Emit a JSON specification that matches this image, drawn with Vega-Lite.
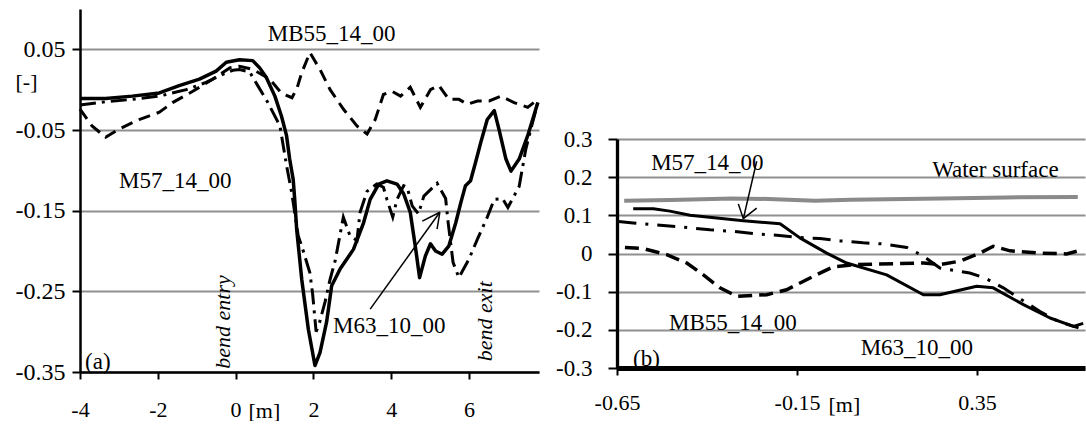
{
  "$schema": "https://vega.github.io/schema/vega-lite/v6.json",
  "padding": {"left": 15, "top": 9, "right": 0, "bottom": 0},
  "background": "white",
  "config": {
    "view": {"stroke": null},
    "font": "'Liberation Serif', 'Times New Roman', serif",
    "axis": {"labelFont": "'Liberation Serif', 'Times New Roman', serif", "titleFont": "'Liberation Serif', 'Times New Roman', serif", "labelColor": "black", "titleColor": "black", "domainColor": "black", "tickColor": "black", "gridColor": "#909090", "gridWidth": 2, "titleFontWeight": "normal", "labelFlush": false, "labelOverlap": false},
    "text": {"font": "'Liberation Serif', 'Times New Roman', serif"}
  },
  "datasets": {
    "aSolid": [{"x":-4,"y":-0.011},{"x":-3.34,"y":-0.011},{"x":-2.66,"y":-0.008},{"x":-1.96,"y":-0.004},{"x":-1.45,"y":0.005},{"x":-0.93,"y":0.013},{"x":-0.5,"y":0.023},{"x":-0.24,"y":0.034},{"x":0.1,"y":0.037},{"x":0.44,"y":0.036},{"x":0.62,"y":0.027},{"x":0.79,"y":0.015},{"x":1.01,"y":-0.008},{"x":1.18,"y":-0.033},{"x":1.31,"y":-0.057},{"x":1.39,"y":-0.086},{"x":1.48,"y":-0.111},{"x":1.52,"y":-0.136},{"x":1.57,"y":-0.173},{"x":1.7,"y":-0.235},{"x":1.87,"y":-0.297},{"x":2.04,"y":-0.342},{"x":2.17,"y":-0.326},{"x":2.34,"y":-0.288},{"x":2.47,"y":-0.243},{"x":2.69,"y":-0.222},{"x":3.03,"y":-0.198},{"x":3.29,"y":-0.165},{"x":3.46,"y":-0.136},{"x":3.68,"y":-0.117},{"x":3.89,"y":-0.113},{"x":4.15,"y":-0.117},{"x":4.32,"y":-0.129},{"x":4.49,"y":-0.152},{"x":4.62,"y":-0.194},{"x":4.73,"y":-0.233},{"x":4.88,"y":-0.206},{"x":5.01,"y":-0.191},{"x":5.14,"y":-0.2},{"x":5.31,"y":-0.204},{"x":5.48,"y":-0.194},{"x":5.66,"y":-0.165},{"x":5.79,"y":-0.14},{"x":5.91,"y":-0.119},{"x":6.04,"y":-0.113},{"x":6.17,"y":-0.09},{"x":6.3,"y":-0.066},{"x":6.47,"y":-0.037},{"x":6.65,"y":-0.026},{"x":6.77,"y":-0.049},{"x":6.95,"y":-0.086},{"x":7.08,"y":-0.101},{"x":7.29,"y":-0.086},{"x":7.51,"y":-0.057},{"x":7.77,"y":-0.016}],
    "aDash": [{"x":-4,"y":-0.024},{"x":-3.69,"y":-0.045},{"x":-3.34,"y":-0.059},{"x":-3.0,"y":-0.049},{"x":-2.48,"y":-0.037},{"x":-1.96,"y":-0.028},{"x":-1.62,"y":-0.016},{"x":-1.1,"y":-0.002},{"x":-0.59,"y":0.013},{"x":-0.15,"y":0.027},{"x":0.1,"y":0.029},{"x":0.45,"y":0.025},{"x":0.88,"y":0.013},{"x":1.14,"y":-0.002},{"x":1.31,"y":-0.007},{"x":1.45,"y":-0.01},{"x":1.58,"y":0.002},{"x":1.7,"y":0.021},{"x":1.91,"y":0.046},{"x":2.17,"y":0.025},{"x":2.43,"y":0.0},{"x":2.77,"y":-0.024},{"x":3.12,"y":-0.045},{"x":3.38,"y":-0.055},{"x":3.59,"y":-0.037},{"x":3.8,"y":-0.006},{"x":4.02,"y":-0.002},{"x":4.24,"y":-0.008},{"x":4.49,"y":0.003},{"x":4.75,"y":-0.022},{"x":5.01,"y":0.0},{"x":5.23,"y":0.005},{"x":5.48,"y":-0.012},{"x":5.74,"y":-0.012},{"x":5.96,"y":-0.018},{"x":6.22,"y":-0.014},{"x":6.52,"y":-0.014},{"x":6.82,"y":-0.008},{"x":7.16,"y":-0.016},{"x":7.51,"y":-0.022},{"x":7.77,"y":-0.012}],
    "aDashDot": [{"x":-4,"y":-0.019},{"x":-3.34,"y":-0.015},{"x":-2.65,"y":-0.012},{"x":-1.96,"y":-0.008},{"x":-1.27,"y":0.0},{"x":-0.76,"y":0.009},{"x":-0.33,"y":0.019},{"x":-0.07,"y":0.024},{"x":0.1,"y":0.025},{"x":0.36,"y":0.022},{"x":0.57,"y":0.005},{"x":0.83,"y":-0.016},{"x":1.14,"y":-0.045},{"x":1.31,"y":-0.094},{"x":1.44,"y":-0.127},{"x":1.61,"y":-0.181},{"x":1.74,"y":-0.2},{"x":1.91,"y":-0.227},{"x":1.98,"y":-0.253},{"x":2.07,"y":-0.3},{"x":2.15,"y":-0.29},{"x":2.3,"y":-0.263},{"x":2.43,"y":-0.235},{"x":2.56,"y":-0.212},{"x":2.77,"y":-0.158},{"x":2.94,"y":-0.181},{"x":3.12,"y":-0.187},{"x":3.2,"y":-0.152},{"x":3.38,"y":-0.126},{"x":3.63,"y":-0.117},{"x":3.8,"y":-0.121},{"x":3.89,"y":-0.136},{"x":4.04,"y":-0.158},{"x":4.15,"y":-0.136},{"x":4.32,"y":-0.119},{"x":4.41,"y":-0.121},{"x":4.54,"y":-0.144},{"x":4.7,"y":-0.154},{"x":4.84,"y":-0.132},{"x":5.18,"y":-0.116},{"x":5.4,"y":-0.135},{"x":5.46,"y":-0.163},{"x":5.59,"y":-0.214},{"x":5.74,"y":-0.233},{"x":6.0,"y":-0.21},{"x":6.22,"y":-0.185},{"x":6.47,"y":-0.158},{"x":6.65,"y":-0.136},{"x":6.86,"y":-0.135},{"x":7.0,"y":-0.146},{"x":7.29,"y":-0.12},{"x":7.46,"y":-0.074},{"x":7.59,"y":-0.049},{"x":7.77,"y":-0.016}],
    "bWater": [{"x":-0.63,"y":0.138},{"x":-0.5,"y":0.14},{"x":-0.33,"y":0.144},{"x":-0.23,"y":0.143},{"x":-0.1,"y":0.138},{"x":0.0,"y":0.141},{"x":0.25,"y":0.144},{"x":0.43,"y":0.147},{"x":0.63,"y":0.148}],
    "bSolid": [{"x":-0.605,"y":0.117},{"x":-0.549,"y":0.117},{"x":-0.503,"y":0.111},{"x":-0.447,"y":0.1},{"x":-0.373,"y":0.093},{"x":-0.299,"y":0.086},{"x":-0.197,"y":0.078},{"x":-0.142,"y":0.041},{"x":-0.0675,"y":0.001},{"x":-0.012,"y":-0.025},{"x":0.099,"y":-0.056},{"x":0.201,"y":-0.108},{"x":0.247,"y":-0.108},{"x":0.349,"y":-0.086},{"x":0.395,"y":-0.09},{"x":0.479,"y":-0.134},{"x":0.553,"y":-0.169},{"x":0.618,"y":-0.191},{"x":0.645,"y":-0.183}],
    "bDash": [{"x":-0.628,"y":0.016},{"x":-0.577,"y":0.013},{"x":-0.512,"y":-0.003},{"x":-0.456,"y":-0.025},{"x":-0.41,"y":-0.056},{"x":-0.364,"y":-0.09},{"x":-0.317,"y":-0.112},{"x":-0.234,"y":-0.108},{"x":-0.179,"y":-0.095},{"x":-0.105,"y":-0.06},{"x":-0.05,"y":-0.035},{"x":0.016,"y":-0.029},{"x":0.201,"y":-0.025},{"x":0.247,"y":-0.029},{"x":0.303,"y":-0.02},{"x":0.358,"y":0.001},{"x":0.395,"y":0.019},{"x":0.442,"y":0.007},{"x":0.525,"y":0.001},{"x":0.599,"y":-0.001},{"x":0.627,"y":0.006}],
    "bDashDot": [{"x":-0.646,"y":0.084},{"x":-0.605,"y":0.08},{"x":-0.466,"y":0.069},{"x":-0.392,"y":0.062},{"x":-0.327,"y":0.058},{"x":-0.262,"y":0.051},{"x":-0.206,"y":0.048},{"x":-0.142,"y":0.042},{"x":-0.086,"y":0.039},{"x":-0.03,"y":0.033},{"x":0.034,"y":0.028},{"x":0.09,"y":0.025},{"x":0.155,"y":0.016},{"x":0.201,"y":-0.007},{"x":0.247,"y":-0.038},{"x":0.303,"y":-0.047},{"x":0.33,"y":-0.051},{"x":0.372,"y":-0.064},{"x":0.423,"y":-0.09},{"x":0.474,"y":-0.121},{"x":0.525,"y":-0.152},{"x":0.576,"y":-0.178},{"x":0.632,"y":-0.195}]
  },
  "spacing": 11,
  "hconcat": [
    {
      "width": 459,
      "height": 363,
      "encoding": {
        "x": {"field": "x", "type": "quantitative", "scale": {"domain": [-4, 7.8], "nice": false, "zero": false},
          "axis": {"values": [-4, -2, 0, 2, 4, 6], "labelExpr": "(datum.value < 0 ? '-' : '') + format(abs(datum.value), 'd')", "labelFontSize": 22, "tickSize": 7, "tickWidth": 2, "labelPadding": 20, "domainWidth": 2.5, "grid": false, "title": "[m]", "titleX": 168, "titleY": 45, "titleAlign": "left", "titleBaseline": "alphabetic", "titleFontSize": 22}},
        "y": {"field": "y", "type": "quantitative", "scale": {"domain": [-0.35, 0.1], "nice": false, "zero": false},
          "axis": {"values": [-0.35, -0.25, -0.15, -0.05, 0.05], "labelExpr": "(datum.value < 0 ? '-' : '') + format(abs(datum.value), '.2f')", "labelFontSize": 24, "tickSize": 8, "tickWidth": 2, "labelPadding": 7, "domainWidth": 2.5, "grid": true, "title": "[-]", "titleAngle": 0, "titleX": -65, "titleY": 72, "titleAlign": "left", "titleBaseline": "middle", "titleFontSize": 22}}
      },
      "layer": [
        {"data": {"values": [{"x": 0}, {"x": 5.9}]}, "mark": {"type": "rule", "color": "black", "strokeWidth": 1.5, "strokeDash": [4, 2.5]}, "encoding": {"y": {"datum": -0.35}, "y2": {"datum": 0.1}}},
        {"data": {"name": "aDash"}, "mark": {"type": "line", "color": "black", "strokeWidth": 3, "strokeDash": [12, 7]}},
        {"data": {"name": "aDashDot"}, "mark": {"type": "line", "color": "black", "strokeWidth": 3, "strokeDash": [16, 6, 3, 6]}},
        {"data": {"name": "aSolid"}, "mark": {"type": "line", "color": "black", "strokeWidth": 3.5, "strokeJoin": "round"}},
        {"data": {"values": [{"x": 3.46, "y": -0.272, "x2": 5.25, "y2": -0.152}, {"x": 5.25, "y": -0.152, "x2": 4.8, "y2": -0.163}, {"x": 5.25, "y": -0.152, "x2": 5.18, "y2": -0.173}]},
          "mark": {"type": "rule", "color": "black", "strokeWidth": 1.5}, "encoding": {"x2": {"field": "x2"}, "y2": {"field": "y2"}}},
        {"data": {"values": [{"x": 2.47, "y": 0.0686, "label": "MB55_14_00"}, {"x": -1.55, "y": -0.1135, "label": "M57_14_00"}]},
          "mark": {"type": "text", "fontSize": 23, "align": "center", "baseline": "middle", "color": "black"}, "encoding": {"text": {"field": "label"}}},
        {"data": {"values": [{"x": 2.505, "y": -0.293, "label": "M63_10_00"}, {"x": -3.87, "y": -0.3376, "label": "(a)"}]},
          "mark": {"type": "text", "fontSize": 23, "align": "left", "baseline": "middle", "color": "black"}, "encoding": {"text": {"field": "label"}}},
        {"data": {"values": [{"x": 0, "y": -0.288, "label": "bend entry"}]},
          "mark": {"type": "text", "fontSize": 22, "fontStyle": "italic", "angle": 270, "align": "center", "baseline": "alphabetic", "dy": -6, "color": "black"}, "encoding": {"text": {"field": "label"}}},
        {"data": {"values": [{"x": 5.9, "y": -0.287, "label": "bend exit"}]},
          "mark": {"type": "text", "fontSize": 22, "fontStyle": "italic", "angle": 270, "align": "center", "baseline": "alphabetic", "dy": 27, "color": "black"}, "encoding": {"text": {"field": "label"}}}
      ]
    },
    {
      "spacing": 0,
      "vconcat": [
        {"width": 468, "height": 119, "data": {"values": [{}]}, "mark": {"type": "point", "opacity": 0}},
        {
          "width": 468,
          "height": 229,
          "encoding": {
            "x": {"field": "x", "type": "quantitative", "scale": {"domain": [-0.65, 0.65], "nice": false, "zero": false},
              "axis": {"values": [-0.65, -0.15, 0.35], "labelExpr": "(datum.value < 0 ? '-' : '') + format(abs(datum.value), '.2f')", "labelFontSize": 22, "tickSize": 7, "tickWidth": 2, "labelPadding": 17, "domainWidth": 5, "grid": false, "title": "[m]", "titleX": 211, "titleY": 43, "titleAlign": "left", "titleBaseline": "alphabetic", "titleFontSize": 22}},
            "y": {"field": "y", "type": "quantitative", "scale": {"domain": [-0.3, 0.3], "nice": false, "zero": false},
              "axis": {"values": [-0.3, -0.2, -0.1, 0, 0.1, 0.2, 0.3], "labelExpr": "datum.value == 0 ? '0' : (datum.value < 0 ? '-' : '') + format(abs(datum.value), '.1f')", "labelFontSize": 23, "tickSize": 9, "tickWidth": 2, "labelPadding": 16, "domainWidth": 3.3, "grid": true, "title": null}}
          },
          "layer": [
            {"data": {"values": [{"x": 0.65}]}, "mark": {"type": "rule", "color": "black", "strokeWidth": 3.3}, "encoding": {"y": {"datum": -0.3}, "y2": {"datum": 0.3}}},
            {"data": {"name": "bWater"}, "mark": {"type": "line", "color": "#8a8a8a", "strokeWidth": 4}},
            {"data": {"name": "bDash"}, "mark": {"type": "line", "color": "black", "strokeWidth": 3.5, "strokeDash": [14, 7]}},
            {"data": {"name": "bDashDot"}, "mark": {"type": "line", "color": "black", "strokeWidth": 3, "strokeDash": [18, 9, 3, 9]}},
            {"data": {"name": "bSolid"}, "mark": {"type": "line", "color": "black", "strokeWidth": 3, "strokeJoin": "round"}},
            {"data": {"values": [{"x": -0.262, "y": 0.2416, "x2": -0.299, "y2": 0.0912}, {"x": -0.299, "y": 0.0912, "x2": -0.313, "y2": 0.13}, {"x": -0.299, "y": 0.0912, "x2": -0.262, "y2": 0.119}]},
              "mark": {"type": "rule", "color": "black", "strokeWidth": 1.5}, "encoding": {"x2": {"field": "x2"}, "y2": {"field": "y2"}}},
            {"data": {"values": [{"x": -0.399, "y": 0.237, "label": "M57_14_00"}, {"x": 0.401, "y": 0.219, "label": "Water surface"}, {"x": -0.328, "y": -0.182, "label": "MB55_14_00"}, {"x": 0.183, "y": -0.2476, "label": "M63_10_00"}]},
              "mark": {"type": "text", "fontSize": 23, "align": "center", "baseline": "middle", "color": "black"}, "encoding": {"text": {"field": "label"}}},
            {"data": {"values": [{"x": -0.6056, "y": -0.2764, "label": "(b)"}]},
              "mark": {"type": "text", "fontSize": 23, "align": "left", "baseline": "middle", "color": "black"}, "encoding": {"text": {"field": "label"}}}
          ]
        }
      ]
    }
  ]
}
